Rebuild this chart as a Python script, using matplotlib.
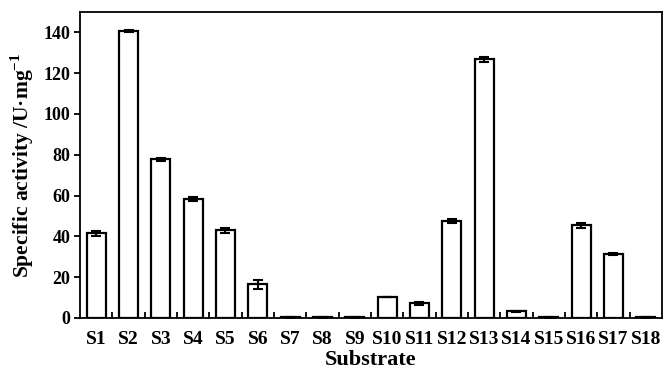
import matplotlib
matplotlib.use("Agg")
import matplotlib.pyplot as plt
import numpy as np

categories = ["S1", "S2", "S3", "S4", "S5", "S6", "S7", "S8", "S9", "S10",
              "S11", "S12", "S13", "S14", "S15", "S16", "S17", "S18"]
values = [41.5, 140.8, 77.7, 58.3, 43.0, 16.5, 0.3, 0.4, 0.3, 10.5,
          7.3, 47.5, 126.8, 3.3, 0.3, 45.5, 31.5, 0.4]
errors = [1.2, 0.6, 0.7, 1.0, 1.2, 2.3, 0.2, 0.2, 0.2, 0.0,
          0.7, 0.8, 1.3, 0.3, 0.2, 1.3, 0.5, 0.2]
yticks = [0, 20, 40, 60, 80, 100, 120, 140]

plt.rcParams['font.family'] = ['Liberation Serif', 'DejaVu Serif']
plt.rcParams['font.weight'] = 'bold'
plt.rcParams['mathtext.fontset'] = 'custom'
plt.rcParams['mathtext.rm'] = 'Liberation Serif:bold'
plt.rcParams['mathtext.bf'] = 'Liberation Serif:bold'

fig = plt.figure(figsize=(6.63, 3.69), dpi=100)
ax = fig.add_axes([80/663, 1 - 318/369, 582/663, (318-12)/369])

x = np.arange(len(categories))
ax.bar(x, values, width=0.59, color='white', edgecolor='black', linewidth=1.6,
       yerr=errors, error_kw=dict(ecolor='black', elinewidth=1.5, capsize=3.5, capthick=1.5))

ax.set_xlim(-0.5, len(categories) - 0.5)
ax.set_ylim(0, 150)
ax.set_yticks(yticks)
ax.set_yticklabels([str(t) for t in yticks], fontsize=13, fontweight='bold')
ax.set_xticks(x)
ax.set_xticklabels(categories, fontsize=14, fontweight='bold')
ax.tick_params(axis='x', which='major', length=0, pad=9)
ax.set_xticks(np.arange(0.5, len(categories) - 1, 1), minor=True)
ax.tick_params(axis='x', which='minor', direction='in', length=4, width=1.3)
ax.tick_params(axis='y', direction='out', length=4, width=1.3, pad=3)
for s in ax.spines.values():
    s.set_linewidth(1.3)

ax.set_ylabel("Specific activity /U·mg$^{-1}$", fontsize=15.5, fontweight='bold', labelpad=5)
ax.set_xlabel("Substrate", fontsize=16, fontweight='bold', labelpad=2)

fig.savefig("out.png", dpi=100)
